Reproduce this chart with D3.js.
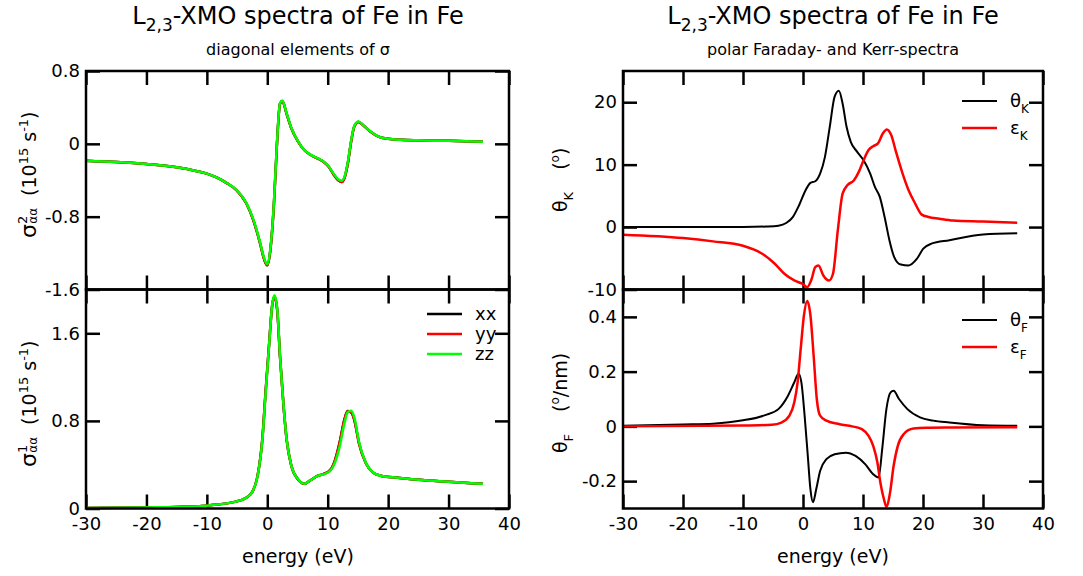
<!DOCTYPE html>
<html><head><meta charset="utf-8">
<script src="https://cdn.jsdelivr.net/npm/d3@7"></script>
<style>
body{margin:0;background:#fff}
svg{display:block}
text{font-family:"DejaVu Sans",sans-serif;fill:#000}
</style>
</head><body>
<svg id="c" width="1083" height="576"></svg>
<script>
// ---------- data ----------
const xTicks = [-30, -20, -10, 0, 10, 20, 30, 40];

// sigma^2 (imaginary part, top-left)
const eSig2 = [-30, -25, -20, -15, -12, -10, -8.3, -6.7, -5.1, -3.5, -2.3, -1.2, -0.5, 0, 0.5, 1.1, 1.6, 2.1, 2.5, 3.2, 4.0, 5.1, 6.1, 7.2, 8.3, 9.3, 10.1, 10.9, 11.7, 12.3, 12.8, 13.3, 13.9, 14.4, 15.1, 16.0, 17.1, 18.4, 20, 22.1, 25, 30, 35.7];
const sig2xx = [-0.185, -0.2, -0.222, -0.258, -0.295, -0.327, -0.372, -0.432, -0.508, -0.65, -0.84, -1.09, -1.272, -1.335, -1.17, -0.66, 0.0, 0.44, 0.468, 0.33, 0.168, 0.024, -0.068, -0.123, -0.16, -0.198, -0.246, -0.328, -0.398, -0.418, -0.37, -0.225, 0.035, 0.19, 0.24, 0.195, 0.133, 0.079, 0.055, 0.044, 0.038, 0.033, 0.022];
const sig2yy = [-0.185, -0.2, -0.222, -0.258, -0.295, -0.327, -0.372, -0.432, -0.508, -0.65, -0.84, -1.09, -1.272, -1.335, -1.17, -0.66, 0.0, 0.44, 0.468, 0.33, 0.168, 0.024, -0.068, -0.123, -0.16, -0.198, -0.246, -0.328, -0.398, -0.418, -0.37, -0.225, 0.035, 0.19, 0.24, 0.195, 0.133, 0.079, 0.055, 0.044, 0.038, 0.033, 0.022];
const sig2zz = [-0.185, -0.2, -0.222, -0.258, -0.295, -0.327, -0.37, -0.43, -0.505, -0.645, -0.83, -1.08, -1.26, -1.322, -1.16, -0.65, 0.007, 0.446, 0.475, 0.336, 0.172, 0.026, -0.066, -0.121, -0.157, -0.194, -0.241, -0.321, -0.387, -0.405, -0.358, -0.212, 0.044, 0.197, 0.245, 0.197, 0.135, 0.080, 0.055, 0.044, 0.038, 0.033, 0.022];

// sigma^1 (real part, bottom-left)
const eSig1 = [-30, -20, -15, -10, -8.3, -5.6, -3.5, -2.4, -1.6, -0.8, -0.3, 0.3, 0.8, 1.2, 1.65, 2.1, 2.7, 3.2, 4.0, 5.1, 6.1, 7.2, 8.3, 9.3, 10.4, 11.2, 12.0, 12.8, 13.3, 13.9, 14.4, 15.2, 16.3, 17.4, 18.9, 21.6, 25, 30, 35.7];
const sig1xx = [0.005, 0.01, 0.014, 0.026, 0.036, 0.058, 0.098, 0.159, 0.3, 0.645, 1.05, 1.5, 1.85, 1.935, 1.81, 1.39, 0.93, 0.63, 0.386, 0.265, 0.226, 0.26, 0.297, 0.314, 0.35, 0.44, 0.61, 0.82, 0.89, 0.875, 0.81, 0.59, 0.415, 0.332, 0.297, 0.281, 0.262, 0.244, 0.225];
const sig1yy = [0.005, 0.01, 0.014, 0.026, 0.036, 0.058, 0.098, 0.159, 0.3, 0.645, 1.05, 1.5, 1.85, 1.935, 1.81, 1.39, 0.93, 0.63, 0.386, 0.265, 0.226, 0.26, 0.297, 0.314, 0.35, 0.44, 0.61, 0.82, 0.89, 0.875, 0.81, 0.59, 0.415, 0.332, 0.297, 0.281, 0.262, 0.244, 0.225];
const sig1zz = [0.005, 0.01, 0.014, 0.026, 0.036, 0.058, 0.098, 0.159, 0.297, 0.633, 1.03, 1.49, 1.856, 1.948, 1.826, 1.40, 0.939, 0.633, 0.388, 0.266, 0.226, 0.26, 0.297, 0.312, 0.343, 0.419, 0.572, 0.786, 0.878, 0.893, 0.832, 0.602, 0.419, 0.333, 0.297, 0.281, 0.262, 0.244, 0.225];

// Kerr rotation / ellipticity (top-right)
const eThK = [-30, -20, -10, -6, -4.1, -2.8, -1.7, -0.65, 0.43, 1.24, 2.04, 2.85, 3.66, 4.46, 5.27, 5.97, 6.6, 7.26, 7.96, 9.03, 10.1, 11.2, 12.0, 12.8, 13.6, 14.4, 15.2, 16.3, 17.6, 19.0, 20.05, 21.4, 24.4, 30, 35.7];
const thetaK = [0, 0, 0.02, 0.1, 0.23, 0.65, 1.6, 3.5, 5.9, 7.08, 7.34, 8.57, 11.25, 16.06, 20.9, 21.84, 19.8, 16.06, 13.66, 12.05, 10.7, 8.57, 6.4, 4.83, 1.62, -2.1, -4.8, -6.0, -6.14, -5.07, -3.46, -2.66, -2.1, -1.2, -1.0];
const eEpsK = [-30, -20, -15, -10, -6.8, -4.7, -3.1, -1.45, -0.1, 0.7, 1.4, 2.04, 2.58, 3.39, 4.35, 5.0, 5.8, 6.6, 7.4, 8.5, 9.3, 10.1, 10.9, 11.7, 12.5, 13.3, 13.98, 14.7, 15.5, 16.6, 17.6, 18.7, 19.8, 20.9, 22.7, 25, 30, 35.7];
const epsK = [-1.22, -1.76, -2.29, -3.0, -4.27, -5.87, -7.48, -8.55, -9.08, -9.62, -8.44, -6.41, -6.14, -7.75, -8.55, -7.48, -0.52, 5.36, 6.7, 7.5, 8.84, 10.71, 12.3, 12.96, 13.4, 15.0, 15.64, 14.73, 12.05, 8.57, 5.9, 3.76, 1.99, 1.62, 1.35, 1.06, 0.9, 0.7];

// Faraday rotation / ellipticity (bottom-right)
const eThF = [-30, -20, -15, -10, -6.3, -4.1, -2.5, -1.45, -0.75, -0.27, 0.27, 0.8, 1.24, 1.67, 2.2, 2.85, 3.9, 5.27, 7.15, 8.76, 10.4, 11.7, 12.6, 13.2, 13.9, 14.6, 15.1, 16.0, 17.4, 19.5, 21.7, 24.4, 30, 35.7];
const thetaF = [0.002, 0.007, 0.01, 0.022, 0.041, 0.063, 0.112, 0.161, 0.192, 0.161, 0.039, -0.108, -0.23, -0.277, -0.23, -0.163, -0.12, -0.102, -0.096, -0.108, -0.139, -0.175, -0.187, -0.083, 0.063, 0.124, 0.13, 0.1, 0.063, 0.033, 0.021, 0.014, 0.004, 0.002];
const eEpsF = [-30, -10, -5.2, -3.6, -2.26, -1.45, -0.9, -0.38, 0.16, 0.7, 1.24, 1.77, 2.3, 2.85, 3.9, 6.1, 8.2, 9.8, 10.9, 11.7, 12.4, 12.9, 13.5, 13.9, 14.5, 15.1, 15.8, 16.8, 18.4, 20.6, 25, 35.7];
const epsF = [0, 0.003, 0.006, 0.014, 0.039, 0.088, 0.161, 0.284, 0.406, 0.458, 0.406, 0.259, 0.1, 0.039, 0.021, 0.008, 0.0, -0.01, -0.034, -0.071, -0.132, -0.206, -0.267, -0.293, -0.243, -0.145, -0.071, -0.028, -0.008, -0.005, -0.004, -0.003];

const ticksSig2 = [-1.6, -0.8, 0, 0.8];
const ticksSig1 = [0, 0.8, 1.6];
const ticksKerr = [-10, 0, 10, 20];
const ticksFar = [-0.2, 0, 0.2, 0.4];

// ---------- drawing ----------
const svg = d3.select("#c");
const fmt = d => String(d);
const TICK = 14;

function panel(o) {
  const x = d3.scaleLinear([-30, 40], [o.x0, o.x1]);
  const y = d3.scaleLinear(o.yDomain, [o.y1, o.y0]);
  const g = svg.append("g");
  const axStyle = sel => {
    sel.select(".domain").remove();
    sel.selectAll(".tick line").attr("stroke", "#000").attr("stroke-width", 2.5);
    sel.selectAll(".tick text").style("font-family", '"DejaVu Sans",sans-serif').style("font-size", "18px").attr("fill", "#000");
  };
  g.append("g").attr("transform", `translate(0,${o.y1})`)
    .call(d3.axisBottom(x).tickValues(xTicks).tickSize(-TICK).tickPadding(9).tickFormat(o.xLabels ? fmt : () => ""))
    .call(axStyle);
  g.append("g").attr("transform", `translate(0,${o.y0})`)
    .call(d3.axisTop(x).tickValues(xTicks).tickSize(-TICK).tickFormat(() => ""))
    .call(axStyle);
  g.append("g").attr("transform", `translate(${o.x0},0)`)
    .call(d3.axisLeft(y).tickValues(o.yTicks).tickSize(-TICK).tickPadding(6).tickFormat(fmt))
    .call(axStyle);
  g.append("g").attr("transform", `translate(${o.x1},0)`)
    .call(d3.axisRight(y).tickValues(o.yTicks).tickSize(-TICK).tickFormat(() => ""))
    .call(axStyle);
  const line = d3.line().x(d => x(d[0])).y(d => y(d[1])).curve(d3.curveMonotoneX);
  o.series.forEach(s => {
    g.append("path").datum(d3.zip(s.x, s.y))
      .attr("fill", "none").attr("stroke", s.color).attr("stroke-width", s.w)
      .attr("stroke-linejoin", "round").attr("d", line);
  });
  g.append("rect").attr("x", o.x0).attr("y", o.y0).attr("width", o.x1 - o.x0).attr("height", o.y1 - o.y0)
    .attr("fill", "none").attr("stroke", "#000").attr("stroke-width", 2.5);
  return g;
}

const L = {x0: 86, x1: 509}, R = {x0: 623, x1: 1043};
const yTop = 71, yMid = 289.5, yBot = 508.5;

panel({...L, y0: yTop, y1: yMid, yDomain: [-1.6, 0.8], yTicks: ticksSig2, xLabels: false,
  series: [{x: eSig2, y: sig2xx, color: "#000", w: 2.5}, {x: eSig2, y: sig2yy, color: "#ff0000", w: 2.5}, {x: eSig2, y: sig2zz, color: "#00ff00", w: 2.5}]});
panel({...L, y0: yMid, y1: yBot, yDomain: [0, 2.0], yTicks: ticksSig1, xLabels: true,
  series: [{x: eSig1, y: sig1xx, color: "#000", w: 2.5}, {x: eSig1, y: sig1yy, color: "#ff0000", w: 2.5}, {x: eSig1, y: sig1zz, color: "#00ff00", w: 2.5}]});
panel({...R, y0: yTop, y1: yMid, yDomain: [-10, 25], yTicks: ticksKerr, xLabels: false,
  series: [{x: eThK, y: thetaK, color: "#000", w: 2}, {x: eEpsK, y: epsK, color: "#ff0000", w: 2.5}]});
panel({...R, y0: yMid, y1: yBot, yDomain: [-0.3, 0.5], yTicks: ticksFar, xLabels: true,
  series: [{x: eThF, y: thetaF, color: "#000", w: 2}, {x: eEpsF, y: epsF, color: "#ff0000", w: 2.5}]});

// titles
function title(cx, sub) {
  const t = svg.append("text").attr("x", cx).attr("y", 24).attr("text-anchor", "middle").style("font-size", "24px");
  t.append("tspan").text("L");
  t.append("tspan").attr("dy", 7).style("font-size", "17px").text("2,3");
  t.append("tspan").attr("dy", -7).text("-XMO spectra of Fe in Fe");
  svg.append("text").attr("x", cx).attr("y", 55).attr("text-anchor", "middle").style("font-size", "16px").text(sub);
}
title(298, "diagonal elements of σ");
title(833, "polar Faraday- and Kerr-spectra");

// x-axis labels
[298, 833].forEach(cx => {
  svg.append("text").attr("x", cx).attr("y", 563).attr("text-anchor", "middle").style("font-size", "19px").text("energy (eV)");
});

// y-axis labels
function sigLabel(bx, by, sup) {
  const t = svg.append("text").attr("transform", `translate(${bx},${by}) rotate(-90)`).style("font-size", "19px");
  t.append("tspan").style("font-size", "22px").text("σ");
  t.append("tspan").attr("dy", -9).style("font-size", "13px").text(sup);
  t.append("tspan").attr("dx", -8).attr("dy", 10).style("font-size", "12px").text("αα");
  t.append("tspan").attr("dy", -1).attr("dx", 12).text("(10");
  t.append("tspan").attr("dy", -8).style("font-size", "13px").text("15");
  t.append("tspan").attr("dy", 8).text(" s");
  t.append("tspan").attr("dy", -8).style("font-size", "13px").text("-1");
  t.append("tspan").attr("dy", 8).text(")");
}
sigLabel(36, 238, "2");
sigLabel(36, 467, "1");

function angLabel(bx, by, sub, unit) {
  const t = svg.append("text").attr("transform", `translate(${bx},${by}) rotate(-90)`).style("font-size", "19px");
  t.append("tspan").text("θ");
  t.append("tspan").attr("dy", 6).style("font-size", "13px").text(sub);
  t.append("tspan").attr("dy", -6).attr("dx", 22).text("(");
  t.append("tspan").attr("dy", -8).style("font-size", "12px").text("o");
  t.append("tspan").attr("dy", 8).text(unit + ")");
}
angLabel(567, 212, "K", "");
angLabel(567, 453, "F", "/nm");

// legends
function legend(x0, ys, items, tx) {
  items.forEach((it, i) => {
    svg.append("line").attr("x1", x0).attr("x2", x0 + 35).attr("y1", ys[i]).attr("y2", ys[i])
      .attr("stroke", it.color).attr("stroke-width", it.w);
    const t = svg.append("text").attr("x", tx).attr("y", ys[i] + 6).style("font-size", "18px");
    t.append("tspan").text(it.label);
    if (it.sub) t.append("tspan").attr("dy", 6).style("font-size", "12px").text(it.sub);
  });
}
legend(427, [314, 334, 354], [
  {label: "xx", color: "#000", w: 2.5}, {label: "yy", color: "#ff0000", w: 2.5}, {label: "zz", color: "#00ff00", w: 2.5}], 475);
legend(962, [101, 128], [
  {label: "θ", sub: "K", color: "#000", w: 2}, {label: "ε", sub: "K", color: "#ff0000", w: 2.5}], 1010);
legend(962, [320, 347], [
  {label: "θ", sub: "F", color: "#000", w: 2}, {label: "ε", sub: "F", color: "#ff0000", w: 2.5}], 1010);
</script>
</body></html>
